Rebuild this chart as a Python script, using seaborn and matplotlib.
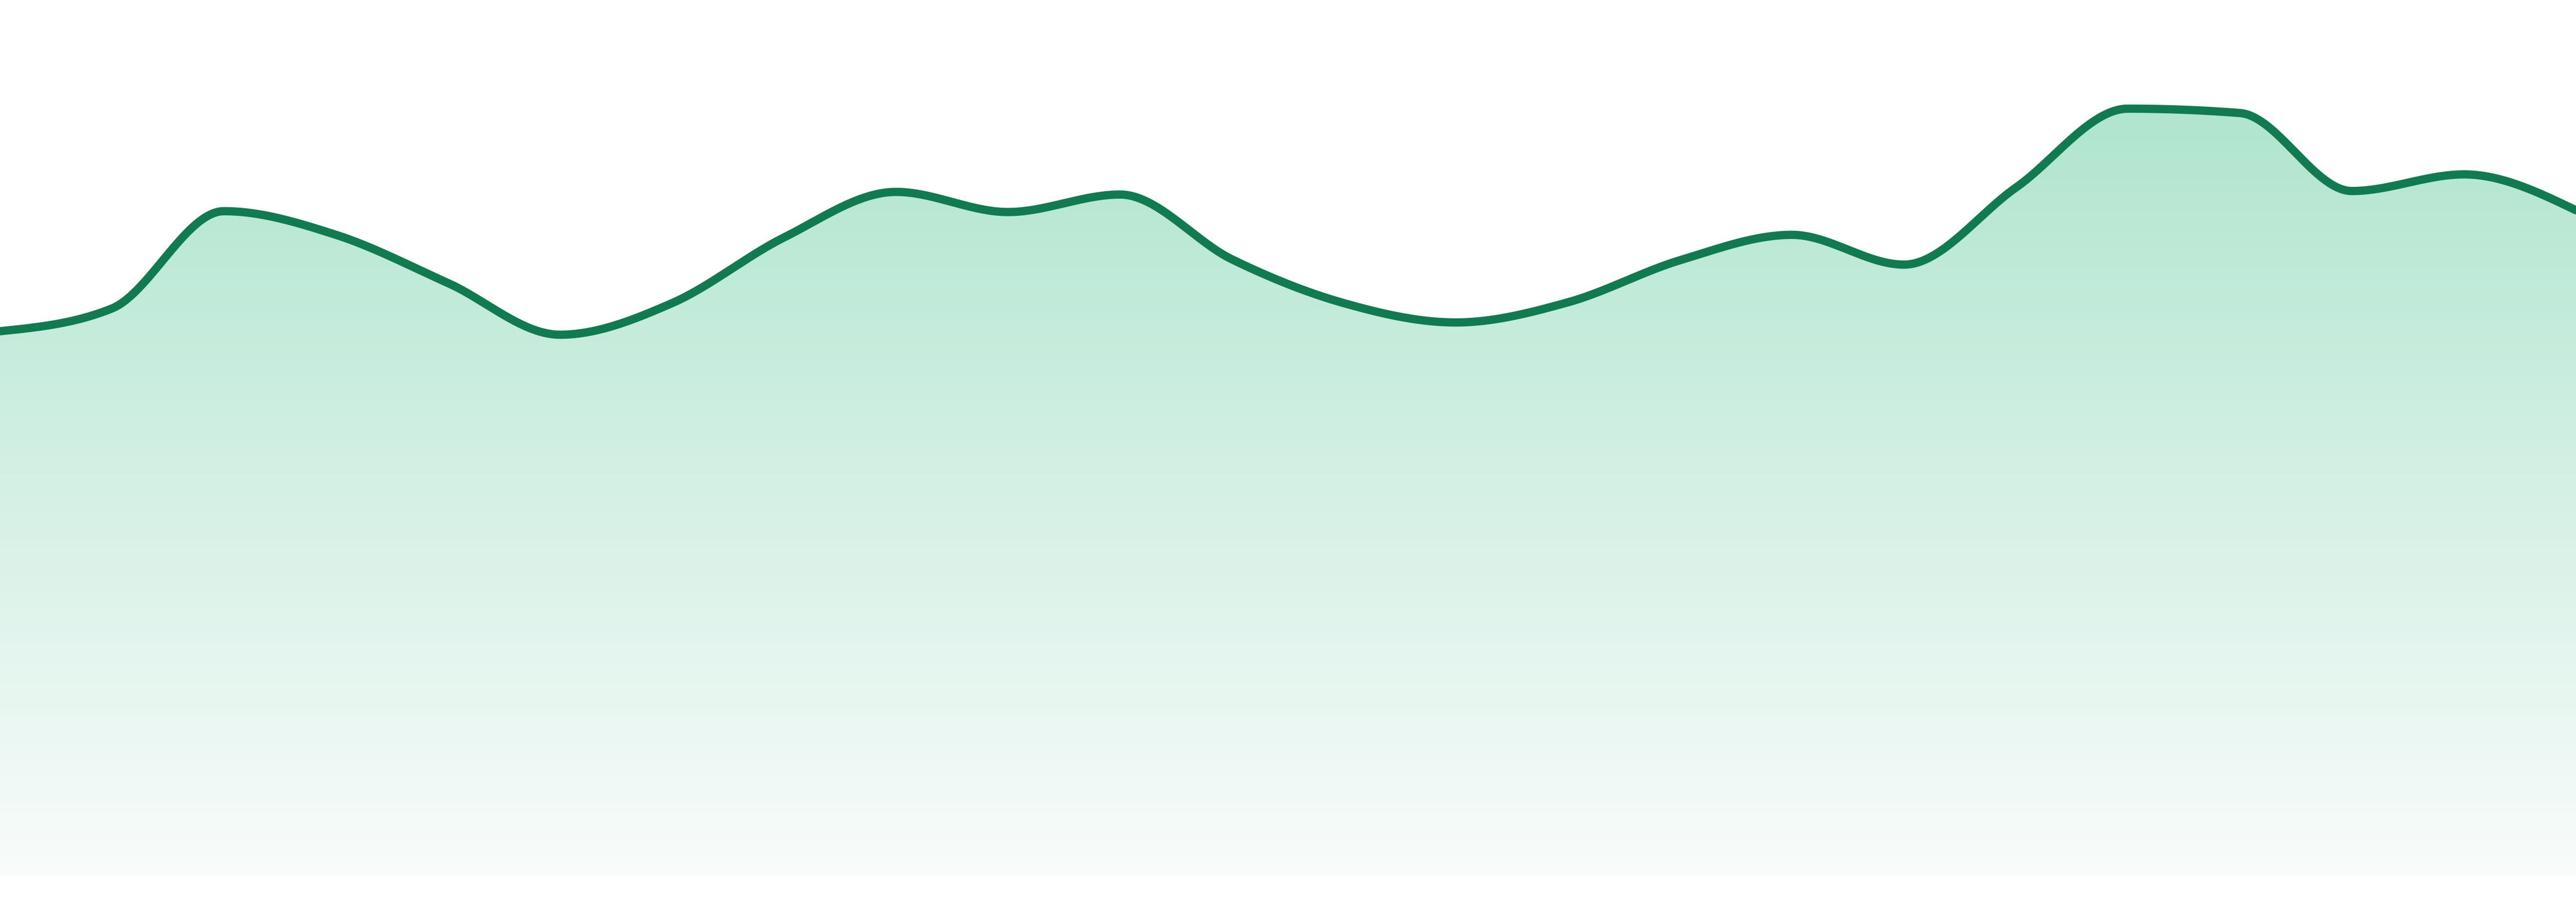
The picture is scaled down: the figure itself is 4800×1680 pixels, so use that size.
import numpy as np
import pandas as pd
import seaborn as sns
import matplotlib.pyplot as plt
from matplotlib.colors import LinearSegmentedColormap

sns.set_theme(style="white")

# values (arbitrary units, 0 = bottom of the area)
points = list(range(24))
values = [62.2, 64.8, 75.9, 73.2, 67.7, 61.8, 65.4, 72.9, 78.1, 75.8, 77.8, 70.4,
          65.4, 63.2, 65.5, 70.3, 73.2, 69.8, 78.6, 87.6, 87.1, 78.2, 80.1, 76.0]

line_color = "#117a51"
fill_top = "#b0e5cf"
fill_bottom = "#f9fcfb"


def monotone_x(x, y, n=60):
    # same smoothing as d3.curveMonotoneX
    x = np.asarray(x, float)
    y = np.asarray(y, float)
    h = np.diff(x)
    s = np.diff(y) / h
    m = np.zeros_like(y)
    for i in range(1, len(x) - 1):
        p = (s[i - 1] * h[i] + s[i] * h[i - 1]) / (h[i - 1] + h[i])
        m[i] = (np.sign(s[i - 1]) + np.sign(s[i])) * min(abs(s[i - 1]), abs(s[i]), 0.5 * abs(p))
    m[0] = (3 * s[0] - m[1]) / 2
    m[-1] = (3 * s[-1] - m[-2]) / 2
    xs, ys = [], []
    for i in range(len(x) - 1):
        t = np.linspace(0, 1, n, endpoint=(i == len(x) - 2))
        h00 = 2 * t**3 - 3 * t**2 + 1
        h10 = t**3 - 2 * t**2 + t
        h01 = -2 * t**3 + 3 * t**2
        h11 = t**3 - t**2
        xs.append(x[i] + t * h[i])
        ys.append(h00 * y[i] + h10 * h[i] * m[i] + h01 * y[i + 1] + h11 * h[i] * m[i + 1])
    return np.concatenate(xs), np.concatenate(ys)


sx, sy = monotone_x(points, values)
smooth = pd.DataFrame({"x": sx, "y": sy})

fig = plt.figure(figsize=(16, 5.6), dpi=300)
ax = fig.add_axes([0, 48 / 1680, 1, 1632 / 1680])

# gradient under the curve
cmap = LinearSegmentedColormap.from_list("area", [fill_bottom, fill_top])
grad = np.linspace(0, 1, 256).reshape(-1, 1)
top = max(values)
img = ax.imshow(grad, cmap=cmap, origin="lower", aspect="auto",
                extent=[points[0], points[-1], 0, top], zorder=1)
poly = ax.fill_between(smooth["x"], smooth["y"], 0, color="none", linewidth=0)
img.set_clip_path(poly.get_paths()[0], transform=ax.transData)

sns.lineplot(data=smooth, x="x", y="y", color=line_color, linewidth=3.7,
             ax=ax, zorder=3, sort=False)

ax.set_xlim(points[0], points[-1])
ax.set_ylim(0, 100)
ax.axis("off")

fig.savefig("out.png", dpi=300, facecolor="white")
